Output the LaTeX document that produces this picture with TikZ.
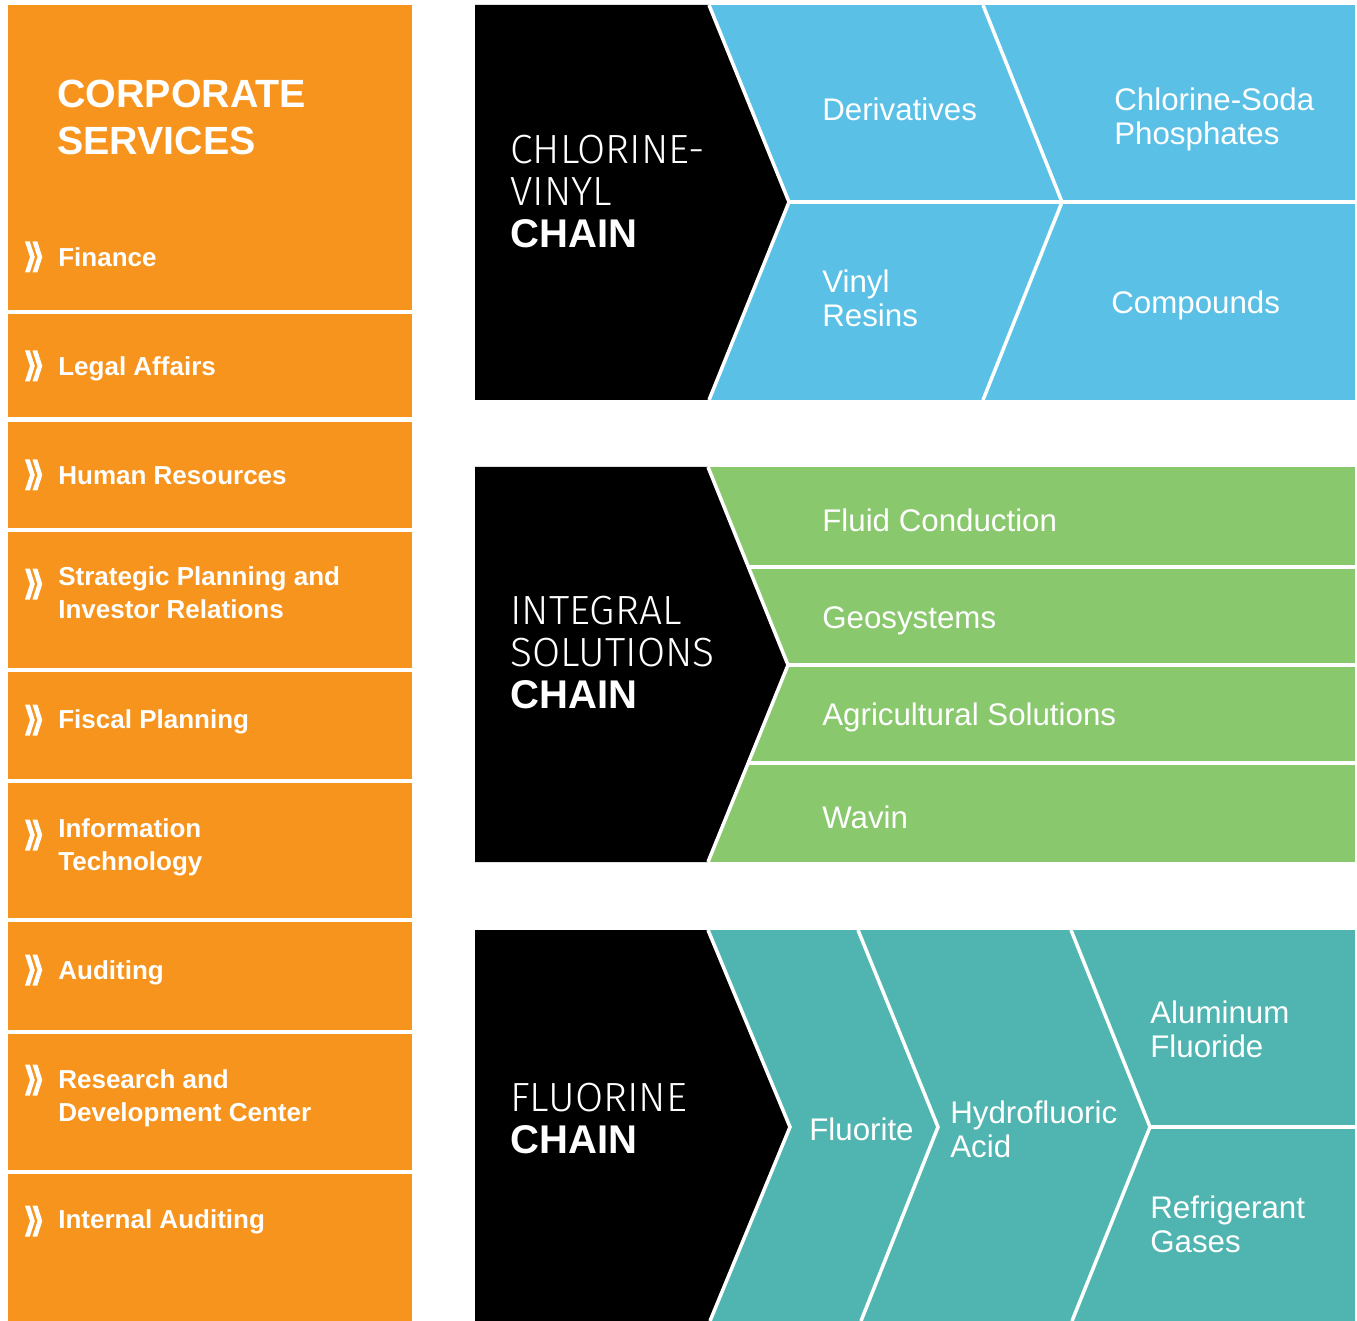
\documentclass[tikz,border=0pt]{standalone}
\usepackage{fontspec}
\setmainfont{Liberation Sans}
\newfontfamily\lightfont{Fira Sans Light}
\usepackage{tikz}

\definecolor{corporange}{HTML}{F7941E}
\definecolor{chainblue}{HTML}{5BC0E6}
\definecolor{chaingreen}{HTML}{8AC86E}
\definecolor{chainteal}{HTML}{50B4B0}

\tikzset{gap/.style = {
    white, 
    line width = 2.3pt
}}
\tikzset{chainline/.style = {
    white, 
    line width = 2pt
}}
\tikzset{corptitle/.style = {
    anchor = north west, 
    inner sep = 0, 
    white, 
    align = left, 
    font = \fontsize{22.4pt}{26.6pt}\selectfont\bfseries
}}
\tikzset{corpitem/.style = {
    anchor = north west, 
    inner sep = 0, 
    white, 
    align = left, 
    font = \fontsize{14.8pt}{18.7pt}\selectfont\bfseries
}}
\tikzset{chaintitle/.style = {
    anchor = north west, 
    inner sep = 0, 
    white, 
    align = left, 
    font = \fontsize{23.2pt}{23.8pt}\lightfont
}}
\tikzset{chainitem/.style = {
    anchor = north west, 
    inner sep = 0, 
    white, 
    align = left, 
    font = \fontsize{17.8pt}{19.8pt}\selectfont
}}
\tikzset{dblchev/.pic = {
    \foreach \dx in {0, 7.5} {
        \fill 
            [white] 
            (\dx, -15.5) -- ++(4.8, 0) -- ++(5, 15.5) 
            -- ++(-5, 15.5) -- ++(-4.8, 0) -- ++(5, -15.5) -- cycle
        ;
    }
}}
\newcommand{\chainword}{{\fontsize{22.8pt}{23.8pt}\rmfamily\bfseries CHAIN}}

\begin{document}
\begin{tikzpicture}[x = 0.02cm, y = -0.02cm]
    \useasboundingbox 
        (0, 0) rectangle (1357, 1321)
    ;

    % Corporate services
    \fill 
        [corporange] 
        (8, 5) rectangle (412, 1321)
    ;
    \foreach \y in {312, 419.5, 530, 670, 781, 920, 1032, 1172}
        \draw [gap] (6, \y) -- (414, \y);
    \foreach \y in {257, 366, 475, 584, 720, 835, 970, 1080, 1221}
        \pic at (25, \y) {dblchev};

    \node [corptitle] (corp) at (57, 80) {CORPORATE\\SERVICES};
    \node [corpitem] (finance) at (58, 247) {Finance};
    \node [corpitem] (legal) at (58, 356) {Legal Affairs};
    \node [corpitem] (hr) at (58, 466) {Human Resources};
    \node [corpitem] (strategic) at (58, 566) {Strategic Planning and\\Investor Relations};
    \node [corpitem] (fiscal) at (58, 709) {Fiscal Planning};
    \node [corpitem] (infotech) at (58, 818) {Information\\Technology};
    \node [corpitem] (auditing) at (58, 960) {Auditing};
    \node [corpitem] (research) at (58, 1069) {Research and\\Development Center};
    \node [corpitem] (intaudit) at (58, 1209) {Internal Auditing};

    % Chlorine-vinyl chain
    \fill 
        [chainblue] 
        (475, 5) rectangle (1355, 400)
    ;
    \fill 
        (475, 5) -- (709, 5) -- (789, 202) -- (709, 400) -- (475, 400) -- cycle
    ;
    \draw 
        [chainline] 
        (709, 5) -- (789, 202) -- (709, 400)
    ;
    \draw 
        [chainline] 
        (983, 5) -- (1062, 202) -- (983, 400)
    ;
    \draw 
        [chainline] 
        (789, 202) -- (1357, 202)
    ;
    \node [chaintitle] (cvtitle) at (510, 135) {CHLORINE-\\VINYL\\\chainword};
    \node [chainitem] (derivatives) at (822, 97) {Derivatives};
    \node [chainitem] (vinyl) at (822, 269) {Vinyl\\Resins};
    \node [chainitem] (chlorsoda) at (1114, 87) {Chlorine-Soda\\Phosphates};
    \node [chainitem] (compounds) at (1111, 290) {Compounds};

    % Integral solutions chain
    \fill 
        [chaingreen] 
        (475, 467) rectangle (1355, 862)
    ;
    \foreach \y in {567, 665, 763}
        \draw [chainline] (740, \y) -- (1357, \y);
    \fill 
        (475, 467) -- (708, 467) -- (788, 665) -- (708, 862) -- (475, 862) -- cycle
    ;
    \draw 
        [chainline] 
        (708, 467) -- (788, 665) -- (708, 862)
    ;
    \node [chaintitle] (istitle) at (510, 596) {INTEGRAL\\SOLUTIONS\\\chainword};
    \node [chainitem] (fluid) at (822, 508) {Fluid Conduction};
    \node [chainitem] (geo) at (822, 606) {Geosystems};
    \node [chainitem] (agri) at (822, 702) {Agricultural Solutions};
    \node [chainitem] (wavin) at (822, 805) {Wavin};

    % Fluorine chain
    \fill 
        [chainteal] 
        (475, 930) rectangle (1355, 1321)
    ;
    \fill 
        (475, 930) -- (708, 930) -- (790, 1127) -- (710, 1321) -- (475, 1321) -- cycle
    ;
    \draw 
        [chainline] 
        (708, 930) -- (790, 1127) -- (710, 1321)
    ;
    \draw 
        [chainline] 
        (858, 930) -- (938, 1127) -- (861, 1321)
    ;
    \draw 
        [chainline] 
        (1071, 930) -- (1150, 1127) -- (1072, 1321)
    ;
    \draw 
        [chainline] 
        (1150, 1127) -- (1357, 1127)
    ;
    \node [chaintitle] (ftitle) at (510, 1083) {FLUORINE\\\chainword};
    \node [chainitem] (fluorite) at (809, 1117) {Fluorite};
    \node [chainitem] (hydro) at (950, 1100) {Hydrofluoric\\Acid};
    \node [chainitem] (alumfl) at (1150, 1000) {Aluminum\\Fluoride};
    \node [chainitem] (refrig) at (1150, 1195) {Refrigerant\\Gases};

\end{tikzpicture}
\end{document}
